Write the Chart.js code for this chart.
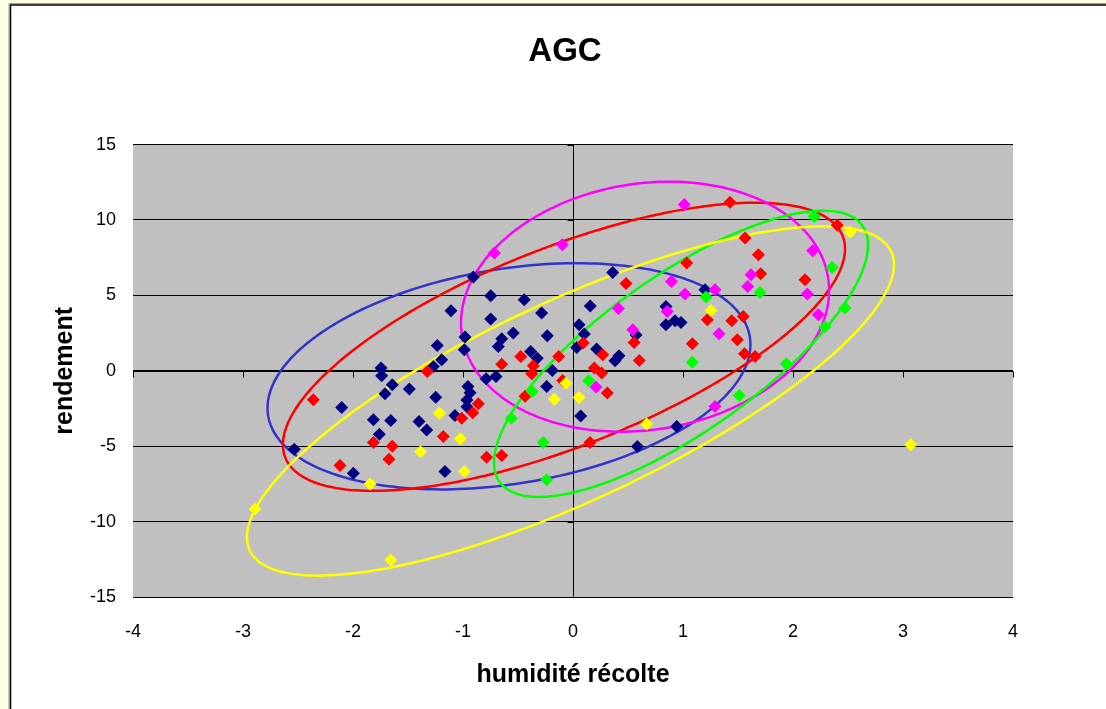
<!DOCTYPE html>
<html>
<head>
<meta charset="utf-8">
<script src="https://cdn.jsdelivr.net/npm/chart.js@4/dist/chart.umd.min.js"></script>
<style>
  html, body { margin: 0; padding: 0; background: #ffffe3; }
  #wrap { width: 1106px; height: 709px; }
</style>
</head>
<body>
<div id="wrap"><canvas id="graph"></canvas></div>
<script>
// points, one pair of arrays per colour
const navyX = [-0.906, -1.109, -1.234, -1.194, -1.27, -0.982, -0.988, -1.745, -1.739, -1.643,
  -1.709, -1.488, -1.248, -0.79, -0.70, -0.955, -0.936, -0.964, -0.964, -1.073,
  -2.103, -1.815, -1.657, -1.40, -1.33, -1.761, -2.534, -1.997, -1.164, 0.585,
  0.943, 0.07, -0.239, -0.188, -0.325, -0.385, -0.234, -0.285, -0.443, -0.748,
  -0.748, -0.543, -0.648, -0.679, 0.055, 0.103, 0.034, 0.215, 0.418, 0.382,
  0.361, 0.157, 0.573, 0.845, 0.845, 0.927, 0.982, 1.2];
const navyY = [6.22, 3.98, 1.68, 0.73, 0.29, 2.24, 1.39, 0.18, -0.33, -0.93,
  -1.53, -1.21, -1.75, -0.53, -0.38, -1.04, -1.46, -1.93, -2.39, -2.97,
  -2.44, -3.25, -3.30, -3.36, -3.92, -4.20, -5.21, -6.79, -6.68, -5.02,
  -3.70, -2.99, -1.04, 0.02, 0.84, 1.28, 2.32, 3.83, 4.71, 4.98,
  3.43, 2.50, 2.12, 1.61, 3.05, 2.44, 1.55, 1.44, 1.0, 0.66,
  6.52, 4.29, 2.37, 4.27, 3.05, 3.32, 3.21, 5.37];

const redX = [-2.361, -1.325, -1.815, -1.643, -1.673, -2.118, -1.179, -0.861, -0.912, -1.012,
  -0.786, -0.648, -0.648, -0.475, -0.361, -0.375, -0.436, -0.13, -0.094, 0.094,
  0.194, 0.261, 0.27, 0.312, 0.155, 0.482, 0.555, 0.603, 1.034, 1.085,
  1.221, 1.443, 1.548, 1.494, 1.559, 1.655, 1.427, 1.564, 1.685, 1.706,
  2.109, 2.403];
const redY = [-1.92, -0.05, -4.76, -5.01, -5.86, -6.28, -4.36, -2.19, -2.79, -3.14,
  -5.73, -5.62, 0.44, 0.95, 0.33, -0.20, -1.69, 0.95, -0.64, 1.84,
  0.18, -0.15, 1.06, -1.48, -4.76, 5.79, 1.88, 0.68, 7.15, 1.79,
  3.38, 3.32, 3.60, 2.06, 1.13, 0.95, 11.17, 8.81, 7.70, 6.44,
  6.04, 9.65];

const magentaX = [-0.715, -0.097, 1.012, 0.412, 0.543, 0.209, 0.857, 0.895, 1.018, 1.291,
  1.327, 1.291, 1.618, 1.588, 2.179, 2.13, 2.23];
const magentaY = [7.81, 8.36, 11.02, 4.13, 2.72, -1.08, 3.93, 5.93, 5.09, 5.37,
  2.46, -2.37, 6.37, 5.59, 7.96, 5.09, 3.72];

const greenX = [-0.561, -0.37, -0.27, -0.239, 0.143, 1.085, 1.209, 1.7, 1.512, 1.939,
  2.194, 2.355, 2.473, 2.291];
const greenY = [-3.14, -1.37, -4.76, -7.23, -0.66, 0.56, 4.89, 5.20, -1.64, 0.46,
  10.24, 6.85, 4.16, 2.92];

const yellowX = [-2.891, -1.657, -1.845, -1.386, -1.215, -1.025, -0.988, -0.17, -0.064, 0.055,
  0.67, 1.255, 2.521, 3.07];
const yellowY = [-9.16, -12.54, -7.50, -5.37, -2.82, -4.51, -6.68, -1.88, -0.82, -1.77,
  -3.53, 4.0, 9.20, -4.91];

// ellipses: centre, half width, half height (data units), tilt phase in degrees
const ellipseColors = ['#3333cc', '#ff0000', '#ff00ff', '#00ff00', '#ffff00'];
const ellipseCx = [-0.582, -0.082, 0.655, 0.982, -0.023];
const ellipseCy = [-0.365, 1.593, 4.25, 1.128, -2.004];
const ellipseRx = [2.195, 2.555, 1.673, 1.70, 2.941];
const ellipseRy = [7.50, 9.555, 8.29, 9.49, 11.58];
const ellipseTilt = [73.7, 47.2, 82.5, 40.5, 38.7];

const xTicks = [-4, -3, -2, -1, 0, 1, 2, 3, 4];
const yTicks = [-15, -10, -5, 0, 5, 10, 15];

const font = 'Liberation Sans, Arial, sans-serif';

function toPoints(xs, ys) {
    return xs.map((x, i) => ({ x: x, y: ys[i] }));
}

function series(label, xs, ys, color, order) {
    return {
        label: label,
        data: toPoints(xs, ys),
        pointStyle: 'rectRot',
        pointRadius: 6.5,
        pointHoverRadius: 6.5,
        backgroundColor: color,
        borderColor: color,
        borderWidth: 0,
        order: order
    };
}

// outer frame + grey plot background
const framePlugin = {
    id: 'frame',
    beforeDraw(chart) {
        const ctx = chart.ctx;
        const a = chart.chartArea;
        ctx.save();
        ctx.fillStyle = '#ffffe3';
        ctx.fillRect(0, 0, chart.width, chart.height);
        ctx.fillStyle = '#ffffff';
        ctx.fillRect(10, 5, chart.width - 10, chart.height - 5);
        ctx.strokeStyle = '#999988';
        ctx.lineWidth = 1;
        ctx.beginPath();
        ctx.moveTo(9, chart.height);
        ctx.lineTo(9, 3.5);
        ctx.lineTo(chart.width, 3.5);
        ctx.stroke();
        ctx.strokeStyle = '#000';
        ctx.lineWidth = 1.5;
        ctx.beginPath();
        ctx.moveTo(10.5, chart.height);
        ctx.lineTo(10.5, 5);
        ctx.lineTo(chart.width, 5);
        ctx.stroke();
        ctx.fillStyle = '#c0c0c0';
        ctx.fillRect(a.left, a.top, a.right - a.left, a.bottom - a.top);
        ctx.restore();
    }
};

// axes crossing at zero, ellipses
const axesPlugin = {
    id: 'zeroAxes',
    beforeDatasetsDraw(chart) {
        const ctx = chart.ctx;
        const a = chart.chartArea;
        const xs = chart.scales.x;
        const ys = chart.scales.y;
        const x0 = Math.round(xs.getPixelForValue(0)) + 0.5;
        const y0 = Math.round(ys.getPixelForValue(0)) + 0.5;
        ctx.save();
        ctx.strokeStyle = '#000';
        ctx.lineWidth = 1;
        ctx.beginPath();
        ctx.moveTo(x0, a.top);
        ctx.lineTo(x0, a.bottom);
        ctx.moveTo(a.left, y0);
        ctx.lineTo(a.right, y0);
        xTicks.forEach((v) => {
            const px = Math.round(xs.getPixelForValue(v)) + 0.5;
            ctx.moveTo(px, y0);
            ctx.lineTo(px, y0 + 6);
        });
        yTicks.forEach((v) => {
            const py = Math.round(ys.getPixelForValue(v)) + 0.5;
            ctx.moveTo(x0 - 6, py);
            ctx.lineTo(x0, py);
        });
        ctx.stroke();

        ctx.beginPath();
        ctx.rect(a.left, a.top, a.right - a.left, a.bottom - a.top);
        ctx.clip();
        ctx.lineWidth = 2.5;
        ellipseCx.forEach((cx, k) => {
            const phi = ellipseTilt[k] * Math.PI / 180;
            ctx.beginPath();
            for (let s = 0; s <= 240; s++) {
                const t = s / 240 * 2 * Math.PI;
                const px = xs.getPixelForValue(cx + ellipseRx[k] * Math.cos(t));
                const py = ys.getPixelForValue(ellipseCy[k] + ellipseRy[k] * Math.cos(t - phi));
                if (s === 0) ctx.moveTo(px, py); else ctx.lineTo(px, py);
            }
            ctx.closePath();
            ctx.strokeStyle = ellipseColors[k];
            ctx.stroke();
        });
        ctx.restore();
    }
};

const config = {
    type: 'scatter',
    data: {
        datasets: [
            series('1', navyX, navyY, '#000080', 5),
            series('2', redX, redY, '#ff0000', 4),
            series('3', magentaX, magentaY, '#ff00ff', 3),
            series('4', greenX, greenY, '#00ff00', 2),
            series('5', yellowX, yellowY, '#ffff00', 1)
        ]
    },
    options: {
        responsive: true,
        maintainAspectRatio: false,
        animation: false,
        layout: { padding: { left: 24, right: 0, top: 0, bottom: 10 } },
        plugins: {
            legend: { display: false },
            tooltip: { enabled: false },
            title: {
                display: true,
                text: 'AGC',
                color: '#000',
                font: { family: font, size: 33, weight: 'bold', lineHeight: 1.2 },
                padding: { top: 32, bottom: 73 }
            }
        },
        scales: {
            x: {
                type: 'linear',
                min: -4,
                max: 4,
                afterBuildTicks: (s) => { s.ticks = xTicks.map((v) => ({ value: v })); },
                afterFit: (s) => { s.height = 102; },
                grid: { display: false, drawTicks: false },
                border: { display: false },
                ticks: { color: '#000', padding: 24, font: { family: font, size: 18 } },
                title: {
                    display: true,
                    text: 'humidité récolte',
                    color: '#000',
                    font: { family: font, size: 25, weight: 'bold', lineHeight: 1.2 },
                    padding: { top: 0, bottom: 9 }
                }
            },
            y: {
                type: 'linear',
                min: -15,
                max: 15,
                afterBuildTicks: (s) => { s.ticks = yTicks.map((v) => ({ value: v })); },
                afterFit: (s) => { s.width = 109; },
                grid: { color: '#000', lineWidth: 1, drawTicks: false },
                border: { display: false },
                ticks: { color: '#000', padding: 17, font: { family: font, size: 18 } },
                title: {
                    display: true,
                    text: 'rendement',
                    color: '#000',
                    font: { family: font, size: 25, weight: 'bold', lineHeight: 1.2 },
                    padding: { top: 26, bottom: 0 }
                }
            },
            // empty right scale, only keeps the plot off the right edge
            y2: {
                type: 'linear',
                position: 'right',
                min: 0,
                max: 1,
                afterFit: (s) => { s.width = 93; },
                grid: { display: false, drawTicks: false },
                border: { display: false },
                ticks: { display: false }
            }
        }
    },
    plugins: [framePlugin, axesPlugin]
};

const ctx = document.getElementById('graph').getContext('2d');
new Chart(ctx, config);
</script>
</body>
</html>
